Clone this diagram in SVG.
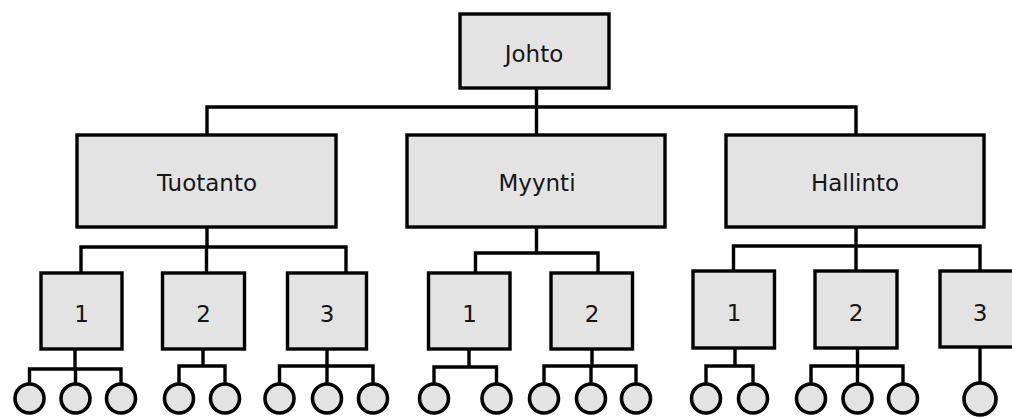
<svg xmlns="http://www.w3.org/2000/svg" width="1012" height="418" viewBox="0 0 1012 418">
  <style>
    .box { fill: #e3e3e3; stroke: #000; stroke-width: 3.4; }
    .leaf { fill: #e3e3e3; stroke: #000; stroke-width: 3.6; }
    .wire { fill: none; stroke: #000; stroke-width: 3.4; stroke-linecap: square; }
    .lbl { font-family: "DejaVu Sans", Verdana, sans-serif; font-size: 23px; fill: #161616; text-anchor: middle; }
  </style>
  <rect width="1012" height="418" fill="#fff"/>

  <!-- connectors -->
  <g id="connectors" class="wire">
    <!-- top level -->
    <path d="M536.5 88 V107 M207 107 H856 M207 107 V135 M536.5 107 V135 M856 107 V135"/>
    <!-- Tuotanto -->
    <path d="M207 227 V247 M81 247 H346 M81 247 V273 M206.5 247 V273 M346 247 V273"/>
    <!-- Myynti -->
    <path d="M536.5 227 V253 M475.5 253 H598 M475.5 253 V273 M598 253 V273"/>
    <!-- Hallinto -->
    <path d="M856 227 V246 M733.5 246 H980 M733.5 246 V271 M856 246 V271 M980 246 V271"/>
    <!-- leaves under Tuotanto 1..3 -->
    <path d="M75 349 V369 M29.5 369 H121 M29.5 369 V384 M75.5 369 V384 M121 369 V384"/>
    <path d="M203 349 V366 M179 366 H225 M179 366 V384 M225 366 V384"/>
    <path d="M327 349 V366 M279.5 366 H373 M279.5 366 V384 M327 366 V384 M373 366 V384"/>
    <!-- leaves under Myynti 1..2 -->
    <path d="M469 349 V367 M434 367 H496.5 M434 367 V384 M496.5 367 V384"/>
    <path d="M592 349 V366 M544 366 H636 M544 366 V384 M591 366 V384 M636 366 V384"/>
    <!-- leaves under Hallinto 1..3 -->
    <path d="M735 348 V366 M706 366 H753 M706 366 V384 M753 366 V384"/>
    <path d="M857.5 348 V366 M811 366 H903 M811 366 V384 M857.5 366 V384 M903 366 V384"/>
    <path d="M980 347 V383"/>
  </g>

  <!-- top node -->
  <g id="johto">
    <rect class="box" x="460" y="14" width="149" height="74"/>
    <text class="lbl" x="534" y="62">Johto</text>
  </g>

  <!-- departments -->
  <g id="tuotanto">
    <rect class="box" x="77" y="135" width="259" height="92"/>
    <text class="lbl" x="207" y="191">Tuotanto</text>
  </g>
  <g id="myynti">
    <rect class="box" x="407" y="135" width="258" height="92"/>
    <text class="lbl" x="537" y="191">Myynti</text>
  </g>
  <g id="hallinto">
    <rect class="box" x="726" y="135" width="258" height="92"/>
    <text class="lbl" x="855" y="191">Hallinto</text>
  </g>

  <!-- units -->
  <g id="tuotanto-1">
    <rect class="box" x="41" y="273" width="81" height="76"/>
    <text class="lbl" x="81.5" y="321.5">1</text>
  </g>
  <g id="tuotanto-2">
    <rect class="box" x="162.5" y="273" width="82" height="76"/>
    <text class="lbl" x="203.5" y="321.5">2</text>
  </g>
  <g id="tuotanto-3">
    <rect class="box" x="287.5" y="273" width="79" height="76"/>
    <text class="lbl" x="327" y="321.5">3</text>
  </g>
  <g id="myynti-1">
    <rect class="box" x="428.5" y="273" width="81.5" height="76"/>
    <text class="lbl" x="469.5" y="321.5">1</text>
  </g>
  <g id="myynti-2">
    <rect class="box" x="551" y="273" width="81.5" height="76"/>
    <text class="lbl" x="592" y="321.5">2</text>
  </g>
  <g id="hallinto-1">
    <rect class="box" x="693" y="271" width="81.5" height="77"/>
    <text class="lbl" x="734" y="320.5">1</text>
  </g>
  <g id="hallinto-2">
    <rect class="box" x="815" y="271" width="82" height="77"/>
    <text class="lbl" x="856" y="320.5">2</text>
  </g>
  <g id="hallinto-3">
    <rect class="box" x="940" y="271" width="90" height="76"/>
    <text class="lbl" x="980" y="320.5">3</text>
  </g>

  <!-- leaf members -->
  <g id="leaves">
    <g id="t1-a"><circle class="leaf" cx="29.5" cy="398.5" r="14.5"/></g>
    <g id="t1-b"><circle class="leaf" cx="75.5" cy="398.5" r="14.5"/></g>
    <g id="t1-c"><circle class="leaf" cx="121" cy="398.5" r="14.5"/></g>
    <g id="t2-a"><circle class="leaf" cx="179" cy="398.5" r="14.5"/></g>
    <g id="t2-b"><circle class="leaf" cx="225" cy="398.5" r="14.5"/></g>
    <g id="t3-a"><circle class="leaf" cx="279.5" cy="398.5" r="14.5"/></g>
    <g id="t3-b"><circle class="leaf" cx="327" cy="398.5" r="14.5"/></g>
    <g id="t3-c"><circle class="leaf" cx="373" cy="398.5" r="14.5"/></g>
    <g id="m1-a"><circle class="leaf" cx="434" cy="398.5" r="14.5"/></g>
    <g id="m1-b"><circle class="leaf" cx="496.5" cy="398.5" r="14.5"/></g>
    <g id="m2-a"><circle class="leaf" cx="544" cy="398.5" r="14.5"/></g>
    <g id="m2-b"><circle class="leaf" cx="591" cy="398.5" r="14.5"/></g>
    <g id="m2-c"><circle class="leaf" cx="636" cy="398.5" r="14.5"/></g>
    <g id="h1-a"><circle class="leaf" cx="706" cy="398.5" r="14.5"/></g>
    <g id="h1-b"><circle class="leaf" cx="753" cy="398.5" r="14.5"/></g>
    <g id="h2-a"><circle class="leaf" cx="811" cy="398.5" r="14.5"/></g>
    <g id="h2-b"><circle class="leaf" cx="857.5" cy="398.5" r="14.5"/></g>
    <g id="h2-c"><circle class="leaf" cx="903" cy="398.5" r="14.5"/></g>
    <g id="h3-a"><circle class="leaf" cx="980" cy="399" r="16"/></g>
  </g>
</svg>
